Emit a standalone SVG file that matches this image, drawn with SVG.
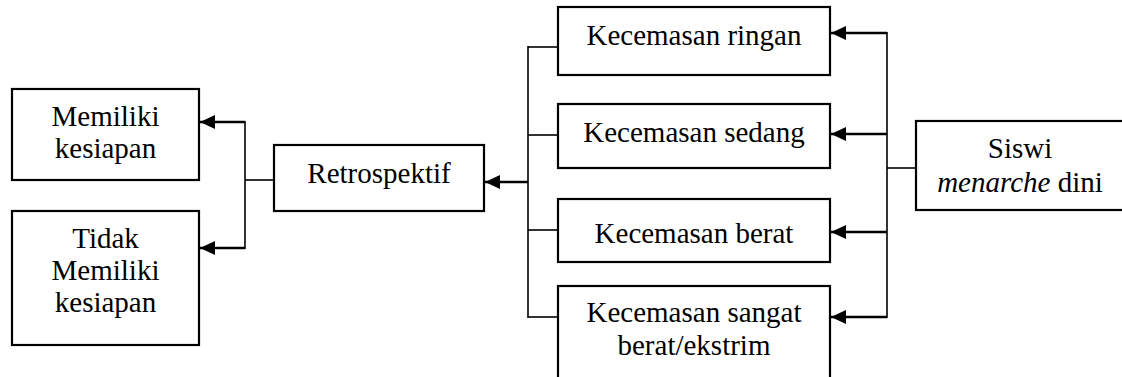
<svg xmlns="http://www.w3.org/2000/svg" width="1122" height="377" viewBox="0 0 1122 377">
  <defs>
    <marker id="head" markerUnits="userSpaceOnUse" markerWidth="16" markerHeight="14" refX="15" refY="7" orient="auto">
      <path d="M0,0 L15,7 L0,14 z" fill="#000000"/>
    </marker>
  </defs>
  <rect width="1122" height="377" fill="#ffffff"/>

  <!-- connectors -->
  <g id="connectors" fill="none" stroke="#000000">
    <g stroke-width="1.6">
      <!-- Retrospektif to outcomes -->
      <line x1="245" y1="121" x2="245" y2="249"/>
      <line x1="245" y1="180" x2="274" y2="180"/>
      <!-- anxiety levels to Retrospektif -->
      <line x1="528" y1="46" x2="528" y2="318"/>
      <line x1="528" y1="47" x2="558" y2="47"/>
      <line x1="528" y1="135" x2="558" y2="135"/>
      <line x1="528" y1="230" x2="558" y2="230"/>
      <line x1="528" y1="317" x2="558" y2="317"/>
      <!-- Siswi menarche dini to anxiety levels -->
      <line x1="887" y1="32" x2="887" y2="318"/>
      <line x1="887" y1="168" x2="916" y2="168"/>
    </g>
    <g stroke-width="2.4" marker-end="url(#head)">
      <line x1="245" y1="122" x2="200" y2="122"/>
      <line x1="245" y1="248" x2="200" y2="248"/>
      <line x1="528" y1="182" x2="485" y2="182"/>
      <line x1="887" y1="33" x2="831" y2="33"/>
      <line x1="887" y1="134" x2="831" y2="134"/>
      <line x1="887" y1="232" x2="831" y2="232"/>
      <line x1="887" y1="317" x2="831" y2="317"/>
    </g>
  </g>

  <g font-family="Liberation Serif, Times New Roman, Tinos, serif" font-size="29" text-anchor="middle" fill="#000000">
    <g id="memiliki">
      <rect x="12" y="89" width="187" height="91" fill="#ffffff" stroke="#000000" stroke-width="2.2"/>
      <text x="105.5" y="126">Memiliki</text>
      <text x="105.5" y="158">kesiapan</text>
    </g>

    <g id="tidak-memiliki">
      <rect x="12" y="211" width="187" height="134" fill="#ffffff" stroke="#000000" stroke-width="2.2"/>
      <text x="105.5" y="248">Tidak</text>
      <text x="105.5" y="280">Memiliki</text>
      <text x="105.5" y="312">kesiapan</text>
    </g>

    <g id="retrospektif">
      <rect x="274" y="145" width="210" height="66" fill="#ffffff" stroke="#000000" stroke-width="2.2"/>
      <text x="379" y="183">Retrospektif</text>
    </g>

    <g id="ringan">
      <rect x="558" y="7" width="272" height="68" fill="#ffffff" stroke="#000000" stroke-width="2.2"/>
      <text x="694" y="45">Kecemasan ringan</text>
    </g>

    <g id="sedang">
      <rect x="558" y="104" width="272" height="64" fill="#ffffff" stroke="#000000" stroke-width="2.2"/>
      <text x="694" y="142">Kecemasan sedang</text>
    </g>

    <g id="berat">
      <rect x="558" y="199" width="272" height="63" fill="#ffffff" stroke="#000000" stroke-width="2.2"/>
      <text x="694" y="243">Kecemasan berat</text>
    </g>

    <g id="sangat-berat">
      <rect x="558" y="286" width="272" height="110" fill="#ffffff" stroke="#000000" stroke-width="2.2"/>
      <text x="694" y="322">Kecemasan sangat</text>
      <text x="694" y="355">berat/ekstrim</text>
    </g>

    <g id="siswi">
      <rect x="916" y="121" width="210" height="89" fill="#ffffff" stroke="#000000" stroke-width="2.2"/>
      <text x="1020" y="158">Siswi</text>
      <text x="1020" y="192"><tspan font-style="italic">menarche</tspan> dini</text>
    </g>
  </g>
</svg>
